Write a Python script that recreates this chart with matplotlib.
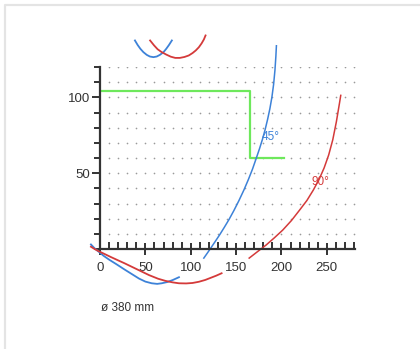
import numpy as np
import matplotlib
matplotlib.use('Agg')
import matplotlib.pyplot as plt
from matplotlib.lines import Line2D

# green limit line
green_x = [0, 165, 165, 203]
green_y = [104, 104, 60, 60]

# 45 degree curve (blue)
blue_x = [114.4, 118.5, 122.5, 127, 132, 137, 142.2, 147.5, 153, 158.5, 163.5, 168, 172,
          175.7, 179, 182, 184.7, 187.2, 189.4, 191.3, 192.8, 193.8, 194.4]
blue_y = [-6, -2.5, 1, 5, 9.5, 14.3, 19.5, 25.3, 31.8, 38.8, 45.8, 52.6, 59.5,
          66, 72.3, 78.8, 85.5, 92.5, 100, 108.5, 118, 127, 134]

# 90 degree curve (red)
red_x = [164.4, 173, 183, 192, 201.4, 211, 220, 228, 235, 241.5, 247, 252, 256.5, 260.5, 264, 265.3]
red_y = [-6, -2, 2.6, 7.3, 12.5, 18.8, 25.7, 32, 38.8, 46, 53.5, 62, 72, 84, 96.5, 101.3]

# arcs below the x axis
blue_low_x = [-10, -6, -2, 4, 10, 18, 27, 35, 43, 50, 57, 63, 68, 74, 80, 87]
blue_low_y = [3, 0.5, -1.5, -4.5, -7, -10, -13.5, -16.5, -19.5, -21.5, -22.6, -23, -22.6, -21.8, -20.5, -18.6]
red_low_x = [-10, -6, -2, 4, 12, 20, 27, 36, 45, 54, 64, 72, 80, 87, 95, 102, 109, 116, 122, 128, 134]
red_low_y = [1.5, 0, -1.3, -3, -5.3, -7.5, -9.4, -12, -14.6, -17.2, -19.6, -21, -22, -22.6, -22.7, -22.4, -21.6, -20.4, -19, -17.6, -16]

# arcs above the plot
blue_top_x = [38.5, 41.5, 44.5, 47.8, 51.5, 55, 58.9, 62.5, 66, 70, 73, 76, 79.2]
blue_top_y = [137.5, 134.5, 132, 129.8, 128, 126.9, 126.5, 126.9, 128, 129.8, 132, 134.5, 137.5]
red_top_x = [55.2, 59.5, 63.5, 68, 73, 78, 82.9, 88, 93, 97.8, 102, 105.5, 108.9, 112, 114.5, 116.3]
red_top_y = [137.5, 134.3, 131.7, 129.8, 128.2, 126.8, 126, 126, 126.6, 127.6, 129.2, 130.9, 133, 135.6, 138.2, 140.8]

x_ticks = [0, 50, 100, 150, 200, 250]
y_ticks = [50, 100]

font = ['Liberation Sans', 'DejaVu Sans']
blue = '#3d82d8'
red = '#d43a3a'
green = '#6ee85c'
dark = '#333333'

fig = plt.figure(figsize=(4.2, 3.49), dpi=100)
fig.patches.append(Line2D([4.5 / 420, 4.5 / 420, 1], [0, 1 - 4.5 / 349, 1 - 4.5 / 349],
                          transform=fig.transFigure, color='#e4e4e4', lw=1.6))

ax = fig.add_axes([100 / 420, 100 / 349, 255 / 420, 182 / 349])
ax.set_xlim(0, 281)
ax.set_ylim(0, 120)

# dotted grid
gx, gy = np.meshgrid(np.arange(10, 290, 10), np.arange(10, 130, 10))
ax.plot(gx.ravel(), gy.ravel(), ls='none', marker='o', ms=1.2, color='#9a9a9a', mec='none')

ax.plot(green_x, green_y, color=green, lw=1.6)
ax.plot(blue_x, blue_y, color=blue, lw=1.1, clip_on=False)
ax.plot(red_x, red_y, color=red, lw=1.1, clip_on=False)
ax.plot(blue_low_x, blue_low_y, color=blue, lw=1.3, clip_on=False)
ax.plot(red_low_x, red_low_y, color=red, lw=1.3, clip_on=False)
ax.plot(blue_top_x, blue_top_y, color=blue, lw=1.3, clip_on=False)
ax.plot(red_top_x, red_top_y, color=red, lw=1.3, clip_on=False)

ax.text(188, 74, '45°', color=blue, fontsize=8.5, family=font, ha='center', va='center')
ax.text(243, 44, '90°', color=red, fontsize=8.5, family=font, ha='center', va='center')
ax.text(1, -39, 'ø 380 mm', color='#333333', fontsize=8.5, family=font, ha='left', va='center')

for s in ['top', 'right']:
    ax.spines[s].set_visible(False)
for s in ['left', 'bottom']:
    ax.spines[s].set_color(dark)
    ax.spines[s].set_linewidth(1.6)

ax.set_xticks(x_ticks)
ax.set_yticks(y_ticks)
ax.set_xticks(np.arange(0, 290, 10), minor=True)
ax.set_yticks(np.arange(0, 130, 10), minor=True)
ax.tick_params(axis='x', which='major', direction='inout', length=9, width=1.4, color=dark, pad=5)
ax.tick_params(axis='x', which='minor', direction='in', length=5, width=1.4, color=dark)
ax.tick_params(axis='y', which='major', direction='out', length=6, width=1.4, color=dark, pad=1)
ax.tick_params(axis='y', which='minor', direction='out', length=4, width=1.4, color=dark)
for lab in ax.get_xticklabels() + ax.get_yticklabels():
    lab.set_family(font)
    lab.set_fontsize(9.5)
    lab.set_color('#333333')

fig.savefig('out.png', dpi=100, facecolor='white')
